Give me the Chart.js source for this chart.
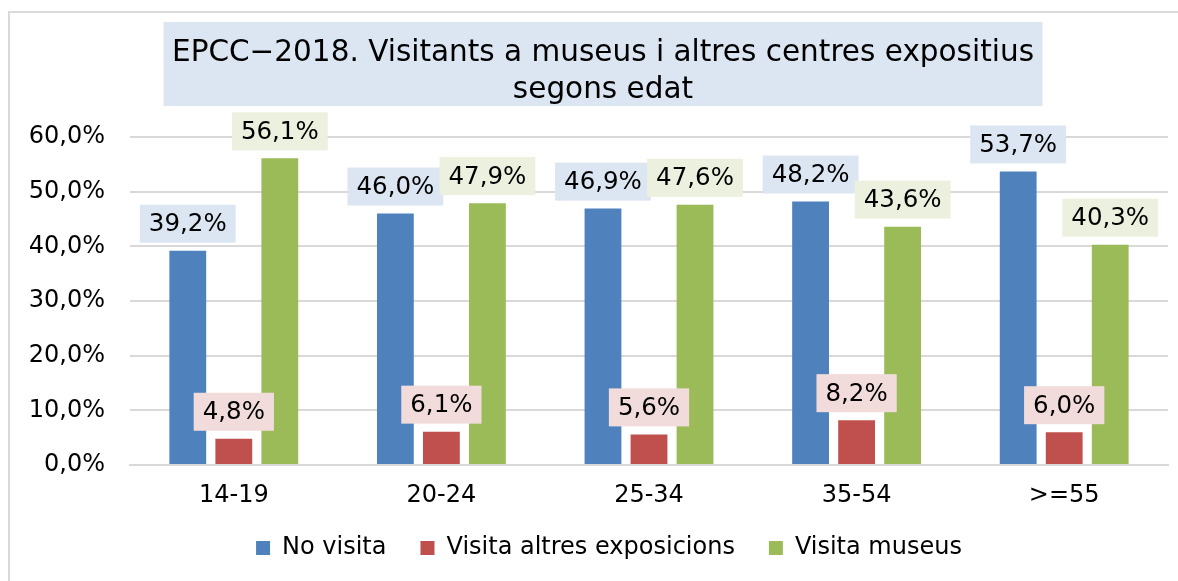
<!DOCTYPE html>
<html>
<head>
<meta charset="utf-8">
<script src="https://cdn.jsdelivr.net/npm/chart.js@4/dist/chart.umd.min.js"></script>
<style>
  html, body { margin: 0; padding: 0; background: #fff; overflow: hidden; }
  #frame { position: absolute; left: 8px; top: 11px; right: -10px; bottom: -10px; border: 2px solid #d9d9d9; }
  #c { position: absolute; left: 0; top: 0; }
</style>
</head>
<body>
<div id="frame"></div>
<canvas id="c" width="1178" height="581"></canvas>
<script>
// ---- data ----
const categories = ['14-19', '20-24', '25-34', '35-54', '>=55'];
const seriesNames = ['No visita', 'Visita altres exposicions', 'Visita museus'];
const noVisita = [39.2, 46.0, 46.9, 48.2, 53.7];
const visitaAltres = [4.8, 6.1, 5.6, 8.2, 6.0];
const visitaMuseus = [56.1, 47.9, 47.6, 43.6, 40.3];
const yTicks = [0, 10, 20, 30, 40, 50, 60];
const titleLines = ['EPCC\u22122018. Visitants a museus i altres centres expositius', 'segons edat'];

// ---- styles ----
const FONT = "'DejaVu Sans', Verdana, sans-serif";
const barColors = ['#4F81BD', '#C0504D', '#9BBB59'];
const labelBg = ['#DCE6F2', '#F2DCDB', '#EBF1DE'];
const TITLE_SIZE = 29.5;

const fmt = v => v.toFixed(1).replace('.', ',') + '%';

const shiftPlugin = {
  id: 'shiftBoxes',
  afterLayout(chart) {
    if (chart.titleBlock) { chart.titleBlock.left += 4; chart.titleBlock.right += 4; }
    if (chart.legend) { chart.legend.left += 10; chart.legend.right += 10; }
  }
};

const titleBoxPlugin = {
  id: 'titleBox',
  beforeDraw(chart) {
    const tb = chart.titleBlock;
    if (!tb) return;
    const ctx = chart.ctx;
    ctx.save();
    ctx.font = TITLE_SIZE + "px " + FONT;
    const w = Math.max(...titleLines.map(t => ctx.measureText(t).width)) + 17;
    const cx = (tb.left + tb.right) / 2;
    ctx.fillStyle = '#DCE6F2';
    ctx.fillRect(cx - w / 2, tb.top, w, 84);
    ctx.restore();
  }
};

const dataLabelPlugin = {
  id: 'dataLabels',
  afterDatasetsDraw(chart) {
    const ctx = chart.ctx;
    ctx.save();
    ctx.font = "24.5px " + FONT;
    ctx.textAlign = 'center';
    ctx.textBaseline = 'middle';
    chart.data.datasets.forEach((ds, di) => {
      const meta = chart.getDatasetMeta(di);
      meta.data.forEach((el, i) => {
        const txt = fmt(ds.data[i]);
        const w = ctx.measureText(txt).width + 18;
        const h = 38;
        const bottom = el.y - 8;
        ctx.fillStyle = labelBg[di];
        ctx.fillRect(el.x - w / 2, bottom - h, w, h);
        ctx.fillStyle = '#000';
        ctx.fillText(txt, el.x, bottom - h / 2 + 1);
      });
    });
    ctx.restore();
  }
};

const LEG_PAD = 34;
const LEG_FONT = 24;
const X_AXIS_H = 548 - LEG_PAD - LEG_FONT / 2 - 465;
const BOTTOM_PAD = 581 - (465 + X_AXIS_H + LEG_FONT + LEG_PAD + 10);

new Chart(document.getElementById('c'), {
  type: 'bar',
  data: {
    labels: categories,
    datasets: [
      { label: seriesNames[0], data: noVisita, backgroundColor: barColors[0] },
      { label: seriesNames[1], data: visitaAltres, backgroundColor: barColors[1] },
      { label: seriesNames[2], data: visitaMuseus, backgroundColor: barColors[2] }
    ]
  },
  options: {
    responsive: false,
    animation: false,
    devicePixelRatio: 1,
    datasets: { bar: { categoryPercentage: 0.665, barPercentage: 0.8 } },
    layout: { padding: { top: 22, left: 30, right: 10, bottom: BOTTOM_PAD } },
    plugins: {
      tooltip: { enabled: false },
      title: {
        display: true,
        text: titleLines,
        color: '#000',
        font: { family: FONT, size: TITLE_SIZE, weight: 'normal', lineHeight: 37 / TITLE_SIZE },
        padding: { top: 12.5, bottom: 28.5 }
      },
      legend: {
        display: true,
        position: 'bottom',
        labels: {
          color: '#000',
          font: { family: FONT, size: LEG_FONT },
          boxWidth: 14,
          boxHeight: 14,
          padding: LEG_PAD
        }
      }
    },
    scales: {
      x: {
        grid: { display: false, drawTicks: false },
        border: { display: true, color: '#d9d9d9', width: 2 },
        ticks: { color: '#000', font: { family: FONT, size: 24 }, padding: 16, maxRotation: 0 },
        afterFit(scale) { scale.height = X_AXIS_H; }
      },
      y: {
        min: 0,
        max: 60,
        afterBuildTicks(scale) { scale.ticks = yTicks.map(v => ({ value: v })); },
        grid: { color: '#d9d9d9', lineWidth: 2, drawTicks: false },
        border: { display: false },
        ticks: { color: '#000', font: { family: FONT, size: 24 }, padding: 25, callback: v => fmt(v) },
        afterFit(scale) { scale.width = 100; }
      }
    }
  },
  plugins: [shiftPlugin, titleBoxPlugin, dataLabelPlugin]
});
</script>
</body>
</html>
